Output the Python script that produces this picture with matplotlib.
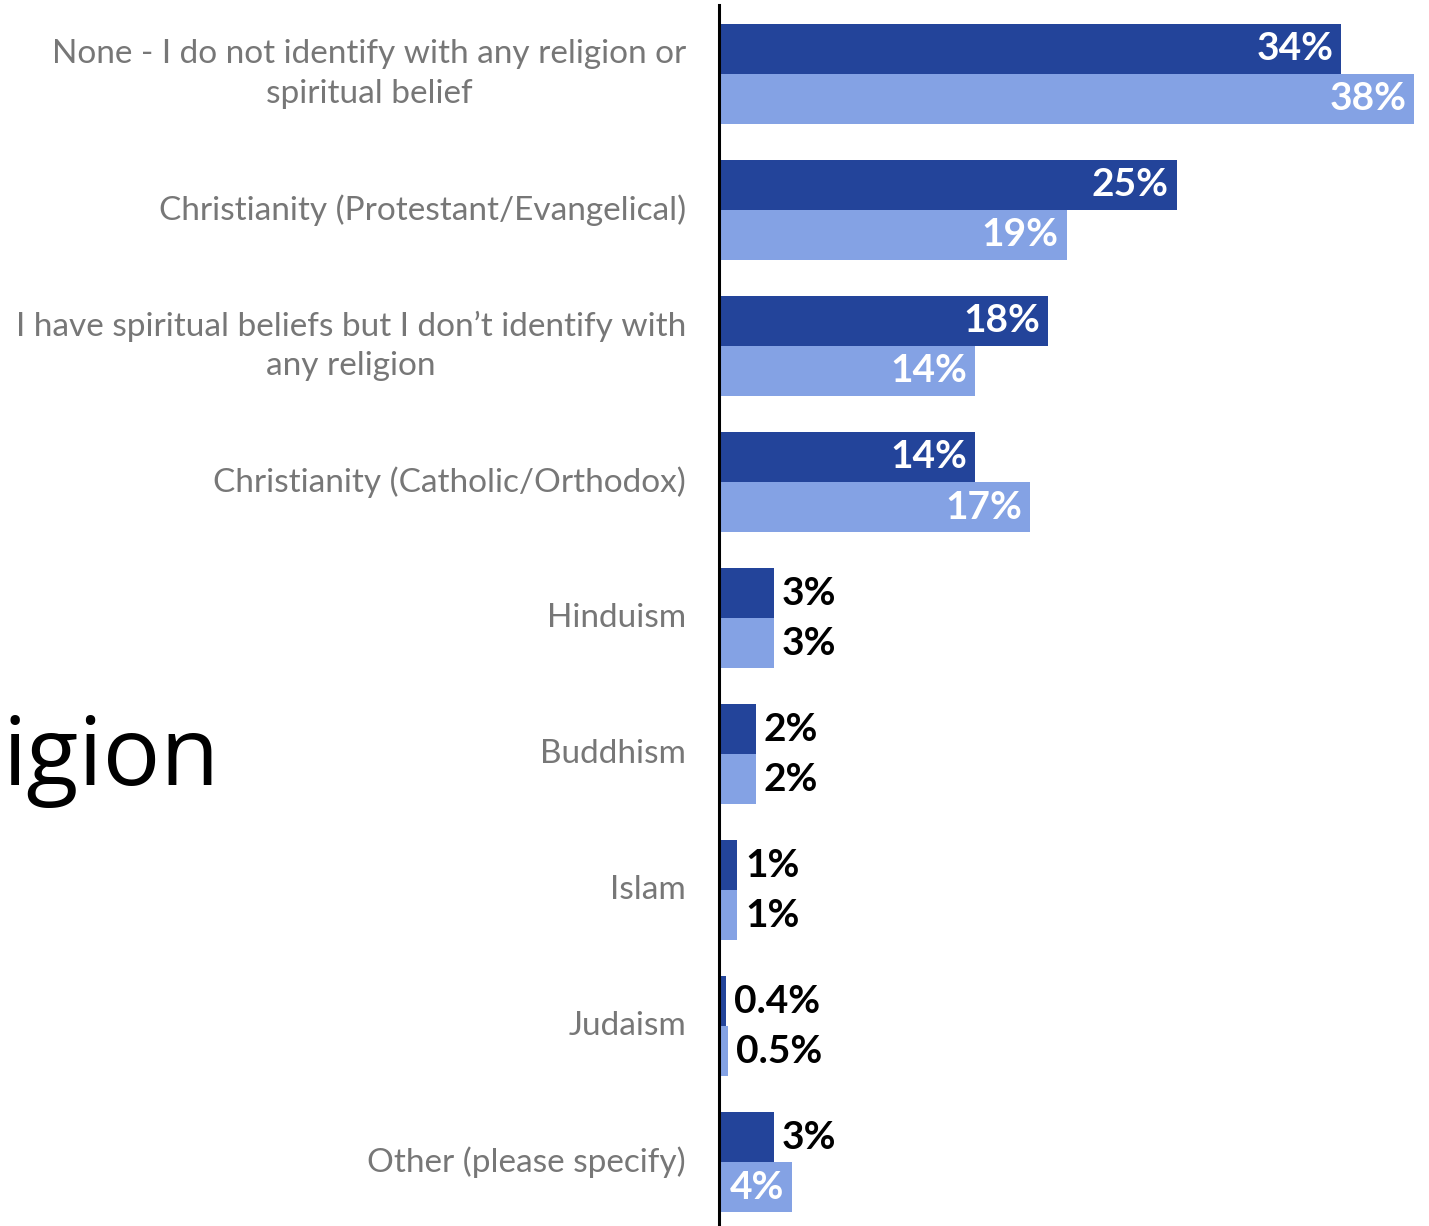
import matplotlib
matplotlib.use("Agg")
import matplotlib.pyplot as plt
import numpy as np

categories = [
    "None - I do not identify with any religion or\nspiritual belief",
    "Christianity (Protestant/Evangelical)",
    "I have spiritual beliefs but I don\u2019t identify with\nany religion",
    "Christianity (Catholic/Orthodox)",
    "Hinduism",
    "Buddhism",
    "Islam",
    "Judaism",
    "Other (please specify)",
]
series_a = [34, 25, 18, 14, 3, 2, 1, 0.4, 3]
series_b = [38, 19, 14, 17, 3, 2, 1, 0.5, 4]
labels_a = ["34%", "25%", "18%", "14%", "3%", "2%", "1%", "0.4%", "3%"]
labels_b = ["38%", "19%", "14%", "17%", "3%", "2%", "1%", "0.5%", "4%"]

DARK = "#23449A"
LIGHT = "#84A2E4"
GRAY = "#777777"

W, H = 1429, 1226
fig = plt.figure(figsize=(W / 100, H / 100), dpi=100)
x0 = 719
pxper = 18.3
ax = fig.add_axes([x0 / W, 0, (W - x0) / W, (H - 5) / H])
ax.set_xlim(0, (W - x0) / pxper)
ax.set_ylim(8.47, -0.507)

y = np.arange(len(categories))
bh = 50 / 136
ax.barh(y - bh / 2, series_a, height=bh, color=DARK)
ax.barh(y + bh / 2, series_b, height=bh, color=LIGHT)

for spine in ["top", "right", "bottom"]:
    ax.spines[spine].set_visible(False)
ax.spines["left"].set_linewidth(2.2)
ax.spines["left"].set_color("black")
ax.set_xticks([])
ax.set_yticks([])

off = 8 / pxper
for vals, labs, dy in [(series_a, labels_a, -bh / 2), (series_b, labels_b, bh / 2)]:
    for i, (v, t) in enumerate(zip(vals, labs)):
        if v >= 4:
            ax.text(v - off, i + dy, t, ha="right", va="center", color="white",
                    fontsize=28, fontweight="bold", family="Lato")
        else:
            ax.text(v + off, i + dy, t, ha="left", va="center", color="black",
                    fontsize=28, fontweight="bold", family="Lato")

lx = (686 - x0) / pxper
for i, c in enumerate(categories):
    ax.text(lx, i, c, ha="right", va="center", multialignment="center",
            color=GRAY, fontsize=24, family="Lato", linespacing=1.38, clip_on=False)

fig.text(2 / W, 1 - 785 / H, "igion", ha="left", va="baseline",
         fontsize=69, family="Open Sans", color="black")

fig.savefig("out.png", dpi=100)
